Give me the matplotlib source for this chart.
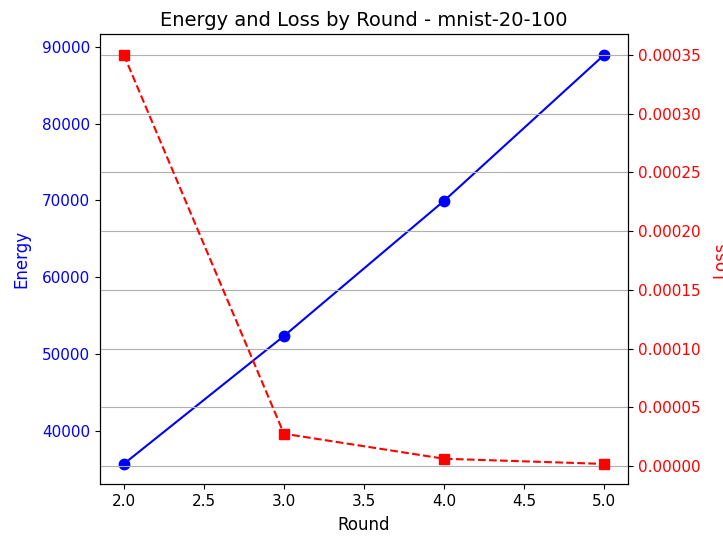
import matplotlib
matplotlib.use("Agg")
import matplotlib.pyplot as plt

rounds = [2, 3, 4, 5]
energy = [35700, 52350, 69950, 88950]
loss = [0.000350, 0.0000275, 0.0000062, 0.0000018]

fig, ax1 = plt.subplots(figsize=(7.23, 5.37), dpi=100)
fig.subplots_adjust(left=0.138, right=0.869, bottom=0.098, top=0.936)

ax1.plot(rounds, energy, "o-", color="blue", markersize=7.5)
ax1.set_xlabel("Round", fontsize=12, labelpad=5)
ax1.set_ylabel("Energy", color="blue", fontsize=12, labelpad=8)
ax1.tick_params(axis="y", labelcolor="blue", labelsize=11)
ax1.tick_params(axis="x", labelsize=11)

ax2 = ax1.twinx()
ax2.plot(rounds, loss, "s--", color="red", markersize=7.5)
ax2.set_ylabel("Loss", color="red", fontsize=12, labelpad=8)
ax2.tick_params(axis="y", labelcolor="red", labelsize=11)
ax2.grid(True)

ax1.set_title("Energy and Loss by Round - mnist-20-100", fontsize=14)
fig.savefig("out.png", dpi=100)
